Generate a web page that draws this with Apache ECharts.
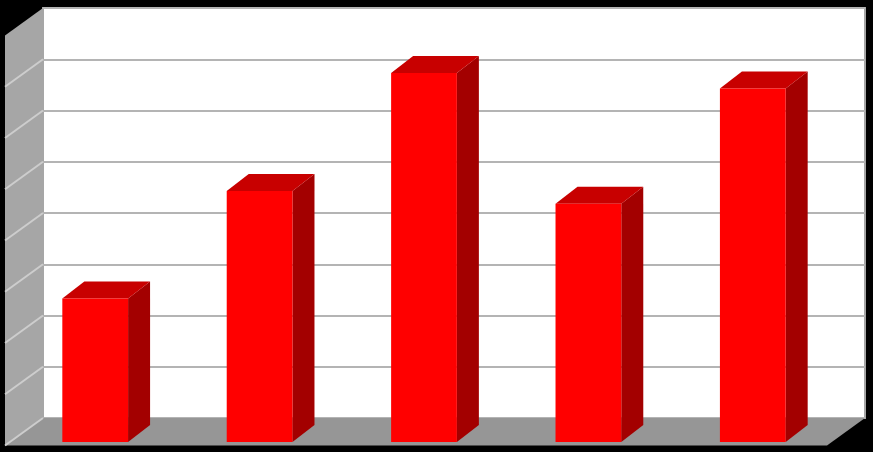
<!DOCTYPE html>
<html>
<head>
<meta charset="utf-8">
<script src="https://cdn.jsdelivr.net/npm/echarts@6/dist/echarts.min.js"></script>
<style>
  html, body { margin: 0; padding: 0; background: #000; }
  #chart { width: 873px; height: 452px; }
</style>
</head>
<body>
<div id="chart"></div>
<script>
// data (axis has no labels, 8 gridline steps)
const categories = ['1', '2', '3', '4', '5'];
const values = [2.8, 4.9, 7.2, 4.65, 6.9];
const tickValues = [0, 1, 2, 3, 4, 5, 6, 7, 8];
const yMin = 0, yMax = 8, yStep = 1;

// fake 3d look (pixels)
const wallDepth = [-38, 27.5];   // back wall -> front edge of walls/floor
const frontShift = [-30, 24];    // back wall -> bar front face
const barDepth = [22, -17];      // bar front face -> bar back face
const barRatio = 0.4;

const chart = echarts.init(document.getElementById('chart'));

function renderWalls(params, api) {
  const cs = params.coordSys;
  const left = cs.x, right = cs.x + cs.width;
  const bottom = api.coord([0, yMin])[1];
  const top = api.coord([0, yMax])[1];
  const dx = wallDepth[0], dy = wallDepth[1];
  const children = [];
  // floor
  children.push({
    type: 'polygon',
    shape: { points: [[left, bottom], [right, bottom], [right + dx, bottom + dy], [left + dx, bottom + dy]] },
    style: { fill: '#969696' }
  });
  // left wall
  children.push({
    type: 'polygon',
    shape: { points: [[left, top], [left, bottom], [left + dx, bottom + dy], [left + dx, top + dy]] },
    style: { fill: '#a6a6a6' }
  });
  tickValues.slice(0, -1).forEach(t => {
    const y = api.coord([0, t])[1];
    children.push({
      type: 'line',
      shape: { x1: left, y1: y, x2: left + dx, y2: y + dy },
      style: { stroke: '#cdcdcd', lineWidth: 2 }
    });
  });
  return { type: 'group', children: children };
}

function renderBar(params, api) {
  const i = api.value(0), v = api.value(1);
  const base = api.coord([i, 0]);
  const tip = api.coord([i, v]);
  const w = api.size([1, 0])[0] * barRatio;
  const x0 = base[0] + frontShift[0] - w / 2, x1 = x0 + w;
  const yb = base[1] + frontShift[1], yt = tip[1] + frontShift[1];
  const ddx = barDepth[0], ddy = barDepth[1];
  return {
    type: 'group',
    children: [
      {
        type: 'polygon',
        shape: { points: [[x1, yb], [x1, yt], [x1 + ddx, yt + ddy], [x1 + ddx, yb + ddy]] },
        style: { fill: '#a30000' }
      },
      {
        type: 'polygon',
        shape: { points: [[x0, yt], [x1, yt], [x1 + ddx, yt + ddy], [x0 + ddx, yt + ddy]] },
        style: { fill: '#c80000' }
      },
      {
        type: 'rect',
        shape: { x: x0, y: yt, width: w, height: yb - yt },
        style: { fill: '#ff0000' }
      }
    ]
  };
}

const option = {
  backgroundColor: '#000',
  animation: false,
  grid: {
    left: 43, right: 8, top: 8, bottom: 34,
    show: true,
    backgroundColor: '#fff',
    borderColor: '#a6a6a6',
    borderWidth: 2
  },
  xAxis: {
    type: 'category',
    data: categories,
    axisLine: { show: false },
    axisTick: { show: false },
    axisLabel: { show: false }
  },
  yAxis: {
    type: 'value',
    min: yMin, max: yMax, interval: yStep,
    axisLine: { show: false },
    axisTick: { show: false },
    axisLabel: { show: false },
    splitLine: { lineStyle: { color: '#b4b4b4', width: 2 } }
  },
  series: [
    {
      type: 'custom',
      z: 1,
      renderItem: renderWalls,
      data: [[0, 0]],
      silent: true
    },
    {
      type: 'custom',
      z: 2,
      renderItem: renderBar,
      data: values.map((v, i) => [i, v])
    }
  ]
};

chart.setOption(option);
</script>
</body>
</html>
